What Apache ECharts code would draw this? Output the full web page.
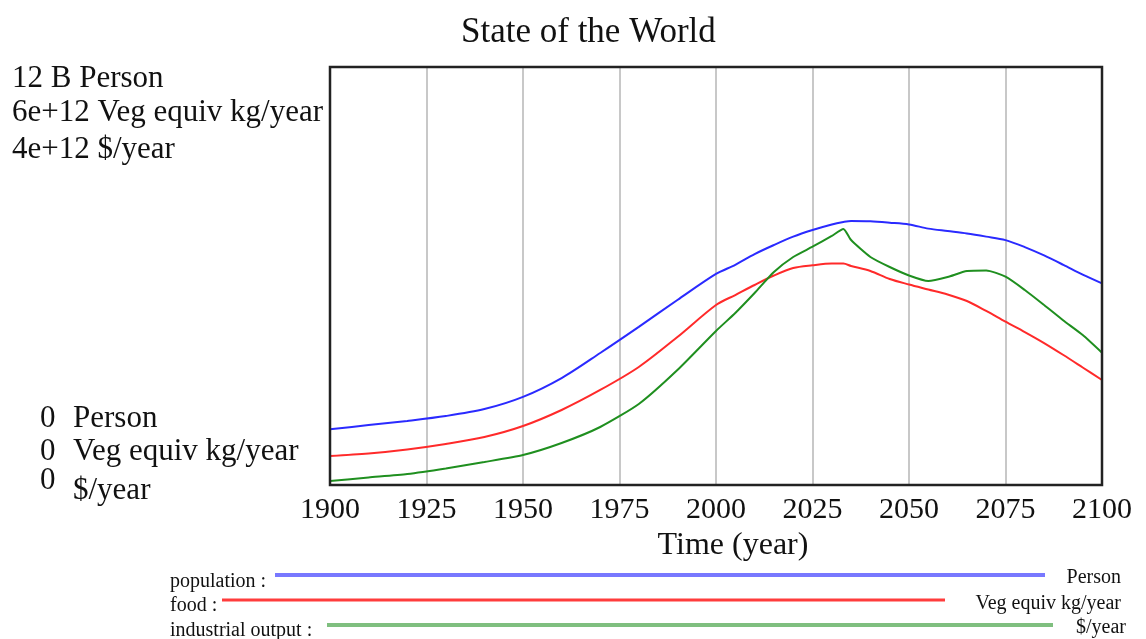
<!DOCTYPE html>
<html>
<head>
<meta charset="utf-8">
<script src="https://cdn.jsdelivr.net/npm/echarts@6/dist/echarts.min.js"></script>
<style>
  html, body { margin: 0; padding: 0; background: #fff; }
  #chart { width: 1146px; height: 639px; }
</style>
</head>
<body>
<div id="chart"></div>
<script>
// years sampled along the run
const years = [1900, 1910, 1920, 1930, 1940, 1950, 1960, 1970, 1980, 1990, 2000, 2005, 2010, 2015, 2020, 2025,
  2030, 2033, 2035, 2040, 2045, 2050, 2055, 2060, 2065, 2070, 2075, 2080, 2085, 2090, 2095, 2100];
// population, billions of persons
const population = [1.60, 1.72, 1.84, 1.98, 2.18, 2.53, 3.07, 3.79, 4.54, 5.31, 6.06, 6.32, 6.63, 6.89, 7.13, 7.32,
  7.48, 7.55, 7.58, 7.57, 7.53, 7.48, 7.36, 7.29, 7.22, 7.13, 7.03, 6.83, 6.59, 6.32, 6.04, 5.79];
// food, 1e12 veg equiv kg/year
const food = [0.416, 0.452, 0.510, 0.589, 0.689, 0.847, 1.077, 1.364, 1.694, 2.124, 2.584, 2.727, 2.871, 3.007, 3.115, 3.154,
  3.179, 3.179, 3.144, 3.072, 2.957, 2.878, 2.806, 2.734, 2.641, 2.498, 2.344, 2.196, 2.038, 1.866, 1.687, 1.507];
// industrial output, 1e12 $/year
const industrial = [0.038, 0.072, 0.105, 0.158, 0.220, 0.287, 0.402, 0.555, 0.775, 1.100, 1.474, 1.646, 1.837, 2.038, 2.182, 2.280,
  2.383, 2.450, 2.344, 2.182, 2.086, 2.005, 1.952, 1.990, 2.048, 2.053, 1.993, 1.866, 1.722, 1.574, 1.435, 1.266];
const xTicks = [1900, 1925, 1950, 1975, 2000, 2025, 2050, 2075, 2100];

const serif = 'Liberation Serif';
const pair = (arr) => years.map((y, i) => [y, arr[i]]);

const chart = echarts.init(document.getElementById('chart'));

function txt(x, y, text, size, align) {
  return {
    type: 'text', x: x, y: y, z: 10,
    style: { text: text, fontFamily: serif, fontSize: size, fill: '#111', align: align || 'left', verticalAlign: 'middle' }
  };
}
function legLine(x1, x2, y, color, w) {
  return { type: 'line', z: 10, shape: { x1: x1, y1: y, x2: x2, y2: y }, style: { stroke: color, lineWidth: w } };
}

chart.setOption({
  animation: false,
  backgroundColor: '#fff',
  title: {
    text: 'State of the World',
    left: 456, top: 10,
    textStyle: { fontFamily: serif, fontSize: 35, fontWeight: 'normal', color: '#111' }
  },
  grid: {
    left: 330, right: 44, top: 67, bottom: 154,
    show: false
  },
  xAxis: {
    type: 'value', min: 1900, max: 2100, interval: 25,
    name: 'Time (year)', nameLocation: 'middle', nameGap: 44,
    nameTextStyle: { fontFamily: serif, fontSize: 32, color: '#111', padding: [0, 0, 0, 34] },
    axisLine: { show: true, lineStyle: { color: '#222', width: 2 } },
    axisTick: { show: false },
    axisLabel: {
      fontFamily: serif, fontSize: 30, color: '#111', margin: 10,
      formatter: (v) => xTicks.includes(v) ? String(v) : ''
    },
    splitLine: { show: true, showMinLine: false, showMaxLine: false, lineStyle: { color: '#c8c8c8', width: 2 } }
  },
  yAxis: [
    { type: 'value', min: 0, max: 12, show: false, splitLine: { show: false } },
    { type: 'value', min: 0, max: 6, show: false, splitLine: { show: false } },
    { type: 'value', min: 0, max: 4, show: false, splitLine: { show: false } }
  ],
  series: [
    { name: 'population', type: 'line', yAxisIndex: 0, data: pair(population), smooth: 0.3, showSymbol: false,
      lineStyle: { color: '#2a2aff', width: 2 }, itemStyle: { color: '#2a2aff' } },
    { name: 'food', type: 'line', yAxisIndex: 1, data: pair(food), smooth: 0.3, showSymbol: false,
      lineStyle: { color: '#ff2a2a', width: 2 }, itemStyle: { color: '#ff2a2a' } },
    { name: 'industrial output', type: 'line', yAxisIndex: 2, data: pair(industrial), smooth: 0.2, showSymbol: false,
      lineStyle: { color: '#1f8f1f', width: 2 }, itemStyle: { color: '#1f8f1f' } }
  ],
  graphic: [
    // plot frame
    { type: 'rect', z: 20, shape: { x: 330, y: 67, width: 772, height: 418 },
      style: { fill: null, stroke: '#222', lineWidth: 2.5 } },
    txt(12, 79, '12 B Person', 31),
    txt(12, 113, '6e+12 Veg equiv kg/year', 31),
    txt(12, 150, '4e+12 $/year', 31),
    txt(40, 419, '0', 31), txt(73, 419, 'Person', 31),
    txt(40, 452, '0', 31), txt(73, 452, 'Veg equiv kg/year', 31),
    txt(40, 481, '0', 31), txt(73, 491, '$/year', 31),
    // legend rows
    txt(170, 582, 'population :', 20), legLine(275, 1045, 575, '#7878ff', 4), txt(1121, 578, 'Person', 20, 'right'),
    txt(170, 606, 'food :', 20), legLine(222, 945, 600, '#ff3c3c', 3), txt(1121, 604, 'Veg equiv kg/year', 20, 'right'),
    txt(170, 631, 'industrial output :', 20), legLine(327, 1053, 625, '#7fbf7f', 4), txt(1126, 628, '$/year', 20, 'right')
  ]
});
</script>
</body>
</html>
